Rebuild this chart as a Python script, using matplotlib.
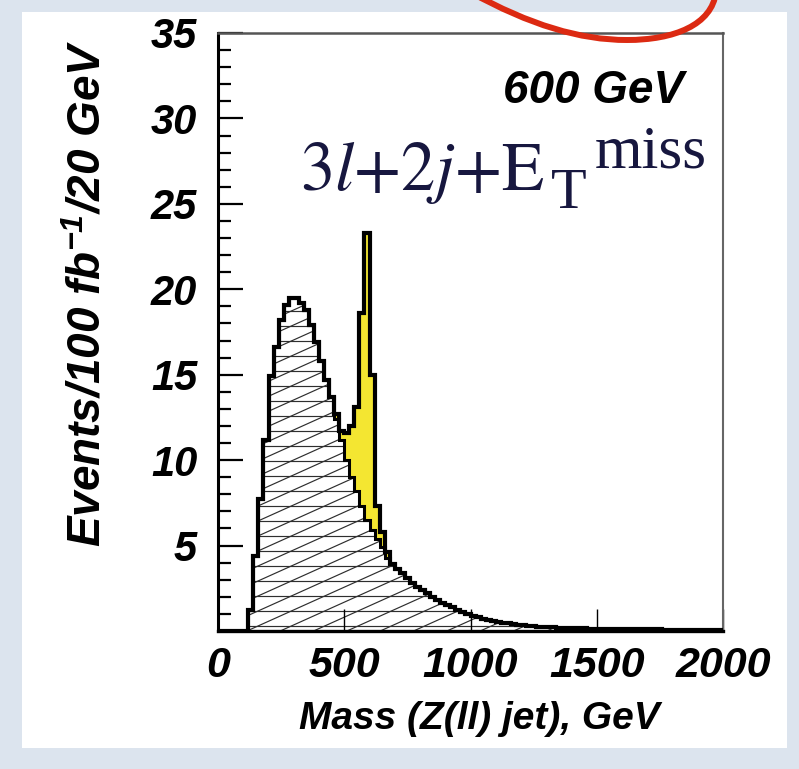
import numpy as np
import matplotlib
matplotlib.use("Agg")
import matplotlib.pyplot as plt
from matplotlib.patches import Rectangle, PathPatch
from matplotlib.path import Path
from matplotlib.ticker import MultipleLocator

# ---------------- data ----------------
bin_edges = np.arange(0, 2001, 20)          # GeV, 20 GeV bins
background = [
    0, 0, 0, 0, 0, 0,
    1.2, 4.4, 7.7, 11.2, 14.9, 16.6, 18.2, 19.1, 19.5, 19.5,
    19.2, 18.8, 17.9, 16.9, 15.8, 14.7, 13.7, 12.4, 11.2, 10.0,
    9.0, 8.2, 7.3, 6.5, 5.9, 5.4, 4.9,
    4.3, 3.9, 3.6, 3.4, 3.1, 2.8, 2.6, 2.4, 2.2, 2.0,
    1.8, 1.65, 1.5, 1.4, 1.25, 1.1, 1.0, 0.9, 0.8, 0.72,
    0.65, 0.58, 0.52,
    0.48, 0.44, 0.40, 0.37, 0.34, 0.31, 0.28, 0.26, 0.24, 0.22,
    0.21, 0.20, 0.19, 0.18, 0.17, 0.16, 0.15, 0.14, 0.13, 0.12,
    0.12, 0.11, 0.11, 0.10, 0.10, 0.10, 0.10, 0.09, 0.09, 0.09,
    0.09, 0.09, 0.08, 0.08, 0.08, 0.08, 0.08, 0.08, 0.07, 0.07,
    0.07, 0.07, 0.07, 0.07,
]
signal_first_bin = 460                       # GeV, lower edge of first signal bin
signal_values = [0.3, 0.5, 1.6, 3.0, 4.9, 11.3, 16.8, 9.1, 1.9, 0.9, 0.3]

x_ticks = [0, 500, 1000, 1500, 2000]
y_ticks = [5, 10, 15, 20, 25, 30, 35]
x_label = "Mass (Z(ll) jet), GeV"
y_label = "Events/100 fb$^{-1}$/20 GeV"
mass_label = "600 GeV"
channel_main = r"$3l{+}2j{+}\mathrm{E}$"
channel_sub = "T"
channel_sup = "miss"

# ---------------- style ----------------
plt.rcParams["font.family"] = ["Liberation Sans", "DejaVu Sans"]
plt.rcParams["mathtext.fontset"] = "custom"
plt.rcParams["mathtext.rm"] = "Liberation Sans:bold:italic"
plt.rcParams["mathtext.it"] = "Liberation Sans:bold:italic"
plt.rcParams["mathtext.bf"] = "Liberation Sans:bold:italic"
plt.rcParams["mathtext.sf"] = "Liberation Sans:bold:italic"
bi = dict(fontweight="bold", fontstyle="italic")

W, H = 799, 769
fig = plt.figure(figsize=(W / 100, H / 100), dpi=100)
fig.patch.set_facecolor("#dce4ee")


def fx(px):
    return px / W


def fy(py):
    return 1 - py / H


# white slide panel
fig.add_artist(Rectangle((fx(22), fy(748)), (787 - 22) / W, (748 - 12) / H,
                         transform=fig.transFigure, fc="white", ec="none", zorder=-5))

ax = fig.add_axes([fx(218), fy(631), (723 - 218) / W, (631 - 33) / H])
ax.set_facecolor("white")

bkg = np.asarray(background, dtype=float)
sig = np.zeros_like(bkg)
i0 = int(np.searchsorted(bin_edges, signal_first_bin))
sig[i0:i0 + len(signal_values)] = signal_values
total = bkg + sig

# background fill (white) + custom hatching clipped to it
bkg_patch = ax.stairs(bkg, bin_edges, fill=True, facecolor="white",
                      edgecolor="none", zorder=1)
ax_w, ax_h = 505.0, 598.0
slope = 0.45 * ax_w / ax_h
for c in np.arange(-1.0, 1.05, 15.0 / ax_h):
    ln, = ax.plot([0, 1], [c, c + slope], transform=ax.transAxes,
                  color="#2e2e2e", lw=0.85, zorder=1.5)
    ln.set_clip_path(bkg_patch)
for c in np.arange(5.0 / ax_h, 1.0, 15.0 / ax_h):
    ln, = ax.plot([0, 1], [c, c], transform=ax.transAxes,
                  color="#2e2e2e", lw=0.85, zorder=1.5)
    ln.set_clip_path(bkg_patch)

# signal (yellow) stacked on background
ax.stairs(total, bin_edges, baseline=bkg, fill=True, facecolor="#f4e631",
          edgecolor="none", zorder=2)
ax.stairs(bkg, bin_edges, color="black", lw=2.2, zorder=3)
ax.stairs(total, bin_edges, color="black", lw=3.0, zorder=3.5)

ax.set_xlim(0, 2000)
ax.set_ylim(0, 35)
ax.set_xticks(x_ticks)
ax.set_yticks(y_ticks)
ax.yaxis.set_minor_locator(MultipleLocator(1))
ax.tick_params(axis="y", which="major", direction="in", length=18, width=1.6,
               pad=15, labelsize=30, left=True, right=False)
ax.tick_params(axis="y", which="minor", direction="in", length=9.5, width=1.6,
               left=True, right=False)
ax.tick_params(axis="x", which="major", direction="in", length=16, width=1.0,
               pad=11, labelsize=31, bottom=True, top=False)
for lab in ax.get_xticklabels() + ax.get_yticklabels():
    lab.set_fontweight("bold")
    lab.set_fontstyle("italic")

ax.spines["left"].set_linewidth(2.2)
ax.spines["bottom"].set_linewidth(2.4)
ax.spines["top"].set_linewidth(1.8)
ax.spines["top"].set_color("#555555")
ax.spines["right"].set_linewidth(1.5)
ax.spines["right"].set_color("#666666")

# axis labels
fig.text(fx(479), fy(729), x_label, ha="center", va="baseline", fontsize=28, **bi)
fig.text(fx(89), fy(293), y_label, ha="center", va="center", rotation=90,
         fontsize=33, **bi)
fig.text(fx(684), fy(103), mass_label, ha="right", va="baseline", fontsize=33, **bi)

# channel label 3l+2j+E_T^miss (Times-like serif, dark navy)
navy = "#17173f"
serif = dict(family=["Liberation Serif", "DejaVu Serif"], fontweight="normal",
             fontstyle="normal", color=navy)
fig.text(fx(300), fy(190), channel_main, ha="left", va="baseline", fontsize=49.5,
         math_fontfamily="stix", **serif)
fig.text(fx(551), fy(208), channel_sub, ha="left", va="baseline", fontsize=42,
         **serif)
fig.text(fx(595), fy(167), channel_sup, ha="left", va="baseline", fontsize=44,
         **serif)

# red hand-drawn circle fragment
pts = [(470, -8), (530, 25), (580, 40), (627, 40),
       (674, 40), (712, 25), (716, -8)]
codes = [Path.MOVETO] + [Path.CURVE4] * 6
path = Path([(fx(x), fy(y)) for x, y in pts], codes)
fig.add_artist(PathPatch(path, transform=fig.transFigure, fill=False,
                         ec="#dc2a12", lw=4.3, capstyle="round", zorder=10))

fig.savefig("out.png", dpi=100, facecolor=fig.get_facecolor())
